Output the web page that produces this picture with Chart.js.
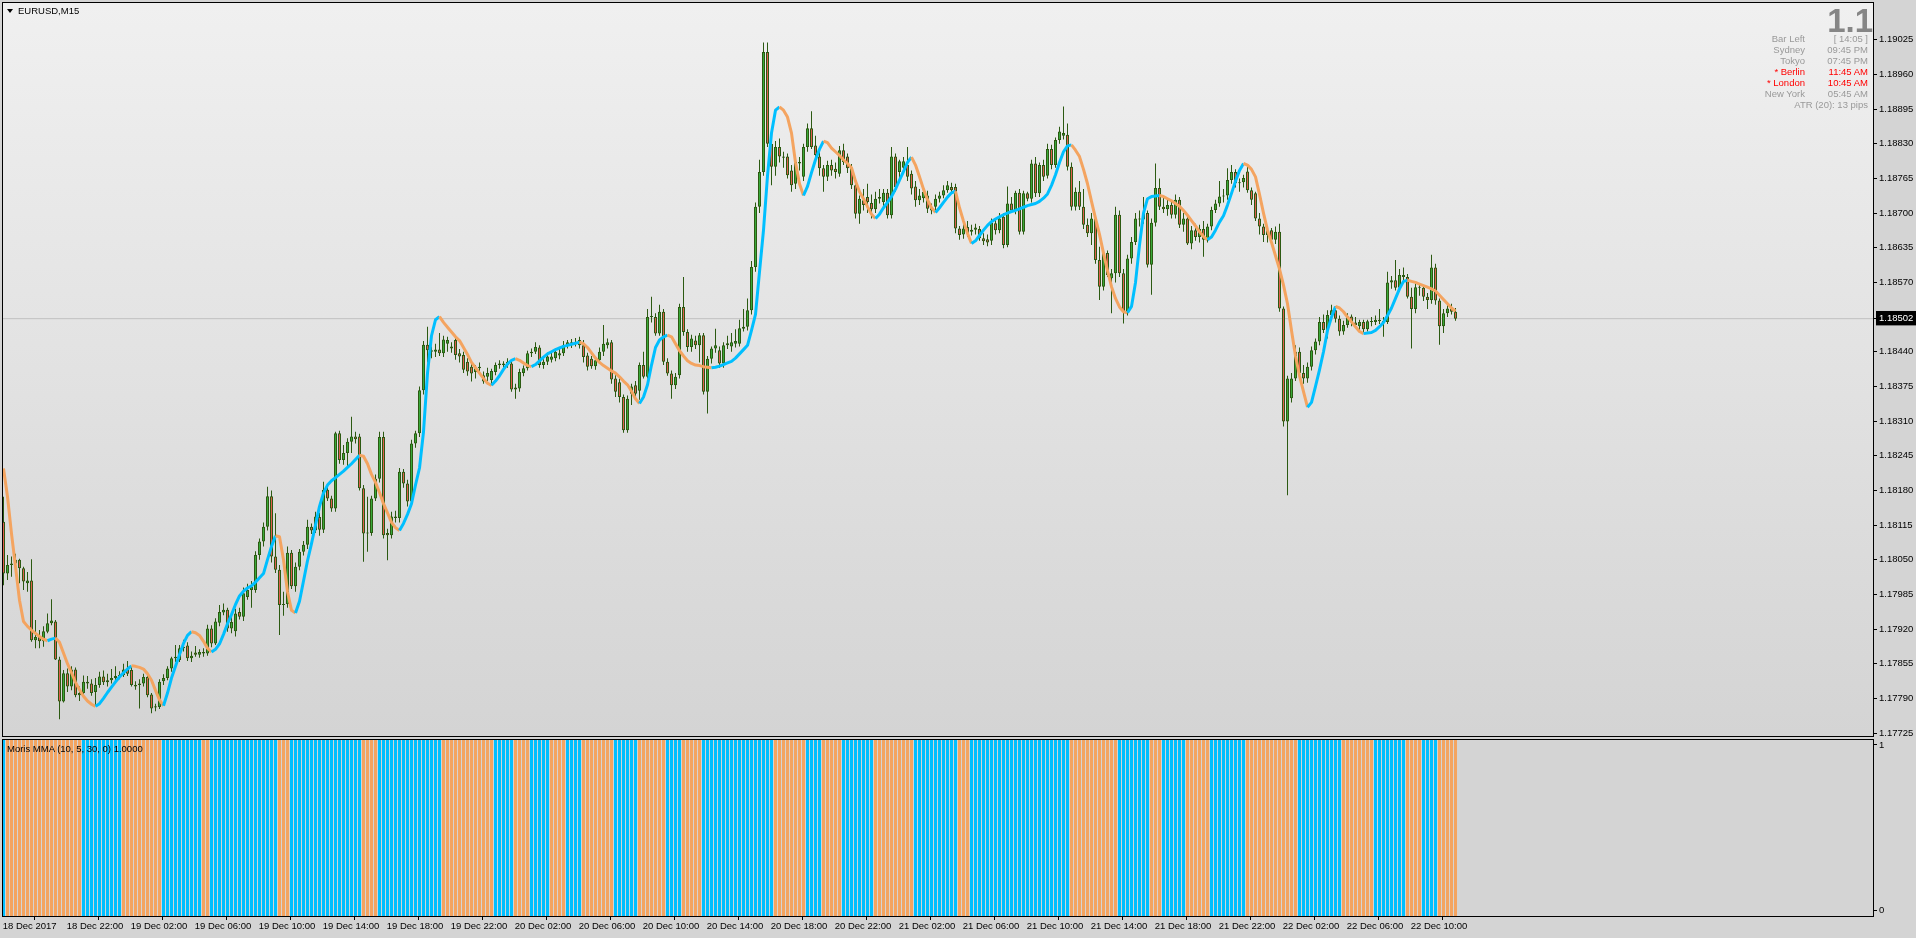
<!DOCTYPE html>
<html lang="en">
<head>
<meta charset="UTF-8">
<title>EURUSD,M15</title>
<script src="https://cdn.jsdelivr.net/npm/chart.js"></script>
<style>
  html, body { margin: 0; padding: 0; }
  body { width: 1916px; height: 938px; background: #d4d4d4; position: relative; overflow: hidden;
         font-family: "Liberation Sans", Arial, sans-serif; }
  canvas { position: absolute; left: 0; }
  .t { position: absolute; font-size: 9.5px; line-height: 11px; white-space: nowrap; color: #000; }
  .g { color: #999; }
  .red { color: #f00; }
</style>
</head>
<body>
<canvas id="priceChart" width="1916" height="737" style="top:0"></canvas>
<canvas id="histChart" width="1916" height="201" style="top:737px"></canvas>

<div style="position:absolute;left:7px;top:9px;width:0;height:0;border-left:3px solid transparent;border-right:3px solid transparent;border-top:4px solid #000"></div>
<div class="t" style="left:18px;top:5px">EURUSD,M15</div>

<div style="position:absolute;right:43px;top:4px;font:bold 33px/33px 'Liberation Sans',Arial,sans-serif;color:#868686">1.1</div>
<div id="info"></div>

<div class="t" style="left:7px;top:743px">Moris MMA (10, 5, 30, 0) 1.0000</div>

<script>
// prices are stored in points (0.00001) above 1.17000
const PRICE_BASE = 1.17;

const opens = [
  1121,1024,1040,1043,1050,1034,1006,1011,899,905,
  897,915,931,934,863,784,837,812,844,796,
  800,821,818,802,815,831,820,824,828,832,
  834,844,843,815,815,818,830,797,775,774,
  822,828,846,865,862,884,889,865,876,872,
  877,874,921,893,932,951,956,921,916,952,
  943,980,993,993,1059,1084,1112,1169,1056,1031,
  965,967,1063,1000,1037,1065,1078,1112,1105,1130,
  1106,1181,1165,1146,1287,1237,1250,1271,1281,1281,
  1184,1099,1100,1165,1202,1280,1100,1096,1131,1128,
  1215,1193,1159,1268,1287,1368,1453,1443,1440,1444,
  1437,1455,1450,1462,1437,1434,1421,1412,1402,1409,
  1396,1393,1387,1402,1415,1418,1415,1418,1369,1371,
  1400,1409,1437,1440,1448,1415,1421,1425,1428,1433,
  1437,1452,1458,1455,1452,1452,1433,1427,1413,1424,
  1440,1452,1458,1390,1383,1355,1293,1361,1377,1367,
  1415,1393,1505,1505,1474,1515,1421,1399,1377,1396,
  1524,1477,1449,1461,1452,1471,1365,1427,1446,1443,
  1418,1452,1450,1455,1455,1483,1487,1518,1599,1712,
  1777,2002,1830,1787,1824,1806,1806,1780,1755,1796,
  1768,1824,1859,1827,1806,1784,1768,1790,1783,1774,
  1818,1806,1784,1752,1699,1724,1730,1719,1707,1727,
  1721,1738,1696,1806,1777,1785,1790,1774,1750,1724,
  1728,1733,1710,1712,1727,1733,1743,1749,1749,1671,
  1660,1674,1665,1669,1670,1653,1651,1648,1681,1668,
  1693,1640,1718,1705,1738,1665,1737,1727,1793,1737,
  1790,1770,1820,1790,1837,1845,1847,1787,1712,1740,
  1712,1678,1662,1690,1612,1562,1625,1578,1587,1697,
  1587,1515,1615,1646,1690,1688,1700,1603,1682,1747,
  1712,1707,1715,1697,1725,1678,1690,1643,1668,1655,
  1670,1650,1675,1706,1718,1731,1733,1762,1777,1756,
  1758,1778,1743,1737,1690,1675,1659,1668,1650,1665,
  1521,1309,1353,1390,1440,1400,1390,1412,1443,1459,
  1496,1481,1509,1518,1502,1478,1490,1506,1495,1488,
  1496,1482,1497,1496,1500,1497,1496,1570,1574,1560,
  1584,1580,1543,1520,1561,1560,1543,1537,1598,1536,
  1488,1512,1521,1515
];
const highs = [
  1168,1059,1056,1061,1052,1037,1027,1051,937,918,
  925,949,976,937,868,843,846,850,848,812,
  833,832,826,828,840,842,836,845,850,841,
  855,860,849,822,826,836,838,800,780,826,
  835,850,868,890,890,900,895,878,888,882,
  884,928,927,940,965,968,960,945,958,960,
  998,1005,1010,1066,1090,1120,1187,1180,1137,1040,
  990,1075,1068,1045,1070,1085,1125,1118,1140,1138,
  1196,1188,1170,1290,1292,1265,1278,1318,1290,1286,
  1190,1168,1170,1210,1290,1290,1108,1140,1142,1222,
  1220,1200,1275,1292,1375,1460,1487,1450,1455,1475,
  1470,1468,1458,1470,1445,1440,1428,1418,1415,1420,
  1403,1410,1408,1420,1424,1422,1428,1422,1380,1408,
  1414,1442,1446,1458,1452,1426,1438,1440,1446,1445,
  1460,1462,1464,1466,1468,1462,1438,1432,1430,1448,
  1490,1465,1462,1396,1390,1360,1358,1380,1385,1420,
  1440,1520,1543,1512,1528,1520,1428,1405,1400,1530,
  1580,1482,1472,1470,1475,1475,1432,1450,1483,1450,
  1458,1470,1475,1482,1500,1520,1540,1610,1720,1800,
  2020,2020,1840,1835,1840,1815,1812,1790,1800,1805,
  1830,1868,1891,1845,1815,1790,1798,1800,1795,1826,
  1830,1812,1792,1758,1733,1745,1755,1735,1740,1745,
  1745,1745,1824,1812,1800,1805,1824,1780,1760,1745,
  1750,1742,1718,1735,1740,1752,1760,1757,1755,1676,
  1680,1685,1678,1680,1676,1662,1660,1690,1688,1700,
  1700,1750,1730,1742,1745,1742,1740,1800,1805,1795,
  1800,1830,1828,1842,1862,1900,1868,1795,1748,1760,
  1745,1690,1700,1698,1637,1632,1630,1595,1712,1705,
  1595,1622,1655,1700,1705,1730,1705,1690,1793,1765,
  1730,1725,1722,1735,1730,1700,1695,1676,1680,1678,
  1685,1680,1712,1725,1760,1745,1784,1790,1782,1765,
  1772,1790,1748,1740,1700,1680,1675,1672,1675,1680,
  1525,1395,1400,1452,1448,1415,1420,1450,1465,1505,
  1510,1518,1528,1525,1508,1498,1512,1510,1505,1500,
  1500,1500,1505,1508,1520,1505,1590,1582,1612,1595,
  1598,1586,1560,1568,1568,1565,1550,1622,1605,1540,
  1520,1528,1530,1522
];
const lows = [
  1002,1012,1018,1021,1006,993,990,896,884,884,
  887,912,927,862,751,782,802,805,792,785,
  795,808,795,777,810,815,812,818,822,826,
  830,832,812,806,771,812,792,762,766,770,
  815,824,840,858,858,878,860,858,868,866,
  868,870,886,890,925,946,915,912,906,938,
  935,975,960,988,1050,1075,1105,1045,1025,909,
  945,960,995,990,1030,1058,1070,1098,1100,1095,
  1100,1160,1140,1140,1230,1228,1225,1250,1268,1180,
  1046,1065,1095,1160,1195,1090,1049,1090,1120,1120,
  1185,1150,1150,1260,1280,1360,1420,1428,1430,1432,
  1430,1440,1438,1425,1420,1400,1395,1384,1390,1398,
  1380,1385,1377,1396,1408,1410,1410,1365,1352,1365,
  1394,1405,1430,1436,1410,1408,1415,1420,1422,1426,
  1432,1446,1447,1450,1446,1420,1405,1408,1406,1418,
  1432,1446,1380,1355,1345,1288,1288,1340,1355,1350,
  1390,1390,1495,1470,1470,1415,1395,1352,1370,1390,
  1470,1440,1440,1445,1420,1360,1324,1418,1438,1410,
  1410,1445,1440,1448,1450,1478,1480,1510,1590,1700,
  1770,1824,1752,1770,1795,1785,1765,1740,1745,1780,
  1760,1815,1820,1795,1770,1740,1760,1770,1765,1768,
  1790,1775,1745,1690,1680,1705,1700,1690,1700,1718,
  1712,1690,1690,1740,1762,1778,1760,1735,1712,1715,
  1720,1700,1698,1705,1720,1728,1738,1738,1662,1650,
  1652,1655,1658,1660,1648,1640,1638,1640,1660,1662,
  1634,1636,1700,1698,1660,1660,1722,1720,1730,1730,
  1760,1765,1782,1785,1830,1838,1780,1705,1705,1706,
  1670,1655,1640,1605,1537,1555,1580,1512,1570,1580,
  1493,1508,1605,1640,1675,1680,1598,1547,1675,1706,
  1700,1695,1690,1690,1672,1665,1640,1632,1648,1645,
  1618,1645,1668,1700,1712,1720,1725,1755,1748,1740,
  1748,1738,1715,1685,1660,1646,1645,1640,1642,1515,
  1300,1171,1345,1385,1395,1380,1382,1405,1435,1452,
  1475,1465,1500,1495,1470,1472,1485,1488,1485,1478,
  1475,1478,1488,1490,1492,1468,1492,1558,1555,1552,
  1572,1540,1446,1512,1545,1535,1520,1530,1528,1453,
  1475,1505,1510,1498
];
const closes = [
  1024,1040,1043,1050,1034,1009,1011,899,905,897,
  916,931,936,863,784,837,812,844,796,800,
  821,818,800,815,831,820,824,828,832,834,
  844,836,815,812,818,830,796,771,773,821,
  828,846,865,868,884,887,865,870,872,877,
  874,921,893,934,952,956,921,933,949,943,
  987,993,999,1059,1084,1112,1169,1056,1031,965,
  967,1063,1000,1037,1065,1078,1112,1105,1131,1106,
  1181,1165,1146,1287,1237,1250,1271,1281,1276,1184,
  1099,1100,1165,1202,1280,1096,1096,1131,1128,1215,
  1193,1159,1268,1287,1368,1453,1443,1440,1444,1437,
  1463,1462,1446,1434,1431,1406,1403,1399,1409,1412,
  1384,1400,1404,1415,1418,1415,1421,1369,1373,1402,
  1409,1437,1440,1449,1415,1421,1431,1431,1440,1437,
  1452,1458,1452,1458,1462,1430,1412,1413,1424,1440,
  1455,1458,1388,1365,1355,1293,1352,1375,1361,1415,
  1393,1505,1505,1474,1515,1421,1399,1377,1393,1524,
  1477,1449,1465,1452,1471,1365,1427,1446,1452,1418,
  1452,1456,1458,1460,1484,1487,1518,1599,1712,1777,
  2002,1830,1787,1824,1806,1804,1771,1752,1796,1793,
  1824,1859,1824,1809,1784,1768,1790,1780,1777,1818,
  1796,1784,1752,1699,1727,1715,1721,1707,1727,1730,
  1738,1696,1806,1749,1797,1797,1768,1746,1724,1733,
  1740,1708,1705,1727,1733,1743,1752,1743,1671,1659,
  1671,1662,1669,1673,1653,1647,1645,1682,1668,1690,
  1640,1718,1705,1738,1665,1737,1727,1793,1737,1790,
  1768,1820,1790,1837,1853,1850,1787,1712,1740,1712,
  1678,1662,1690,1612,1562,1625,1584,1587,1697,1587,
  1515,1615,1646,1690,1688,1700,1603,1682,1747,1712,
  1707,1715,1697,1725,1678,1690,1643,1668,1655,1670,
  1650,1675,1706,1718,1731,1733,1762,1777,1756,1758,
  1766,1743,1725,1690,1675,1659,1668,1650,1665,1521,
  1309,1390,1390,1440,1400,1390,1412,1443,1459,1496,
  1481,1509,1518,1502,1478,1490,1506,1495,1490,1496,
  1482,1497,1496,1500,1497,1496,1570,1574,1560,1584,
  1580,1543,1520,1561,1560,1543,1537,1598,1536,1488,
  1512,1521,1515,1502
];
// Moris MMA line, same units
const maVals = [
  1221,1168,1099,1037,974,934,925,918,912,906,901,898,901,903,
  895,875,855,838,820,806,794,785,779,775,
  780,790,801,811,821,830,838,845,851,
  850,848,845,836,824,805,787,776,
  800,828,850,872,893,908,915,
  913,908,897,884,877,
  882,892,910,930,947,966,982,991,997,1001,1008,1016,1024,1050,1075,1095,
  1093,1050,990,955,950,
  972,1010,1048,1080,1115,1150,1175,1190,1198,1204,1210,1216,1223,1230,1238,1246,
  1244,1230,1210,1195,1176,1155,1138,1120,1110,1105,
  1118,1135,1155,1190,1222,1290,1400,1470,1500,
  1506,1495,1486,1477,1468,1461,1448,1435,1420,1410,1400,1390,1381,
  1377,1385,1395,1407,1417,1424,1427,
  1424,1419,1414,1412,
  1416,1423,1430,1436,1440,1444,1447,1450,1452,1454,1456,1458,
  1455,1448,1438,1428,1420,1414,1409,1404,1400,1393,1385,1378,1366,1352,1343,
  1355,1378,1415,1448,1462,1468,1471,
  1468,1455,1442,1432,1423,1418,1415,1414,1412,1411,1410,
  1411,1413,1416,1419,1422,1428,1436,1444,1452,1480,1510,1590,1668,1770,1850,1893,1899,
  1893,1880,1850,1795,1755,1733,1750,1776,1800,1820,1835,
  1832,1822,1815,1808,1800,1793,1785,1760,1740,1727,1712,1698,1690,
  1698,1710,1720,1731,1745,1762,1778,1795,1805,
  1790,1768,1745,1725,1710,1701,1710,1720,1730,1738,1741,
  1710,1685,1662,1643,
  1648,1658,1668,1677,1684,1689,1693,1697,1700,1703,1705,1708,1711,1714,1716,1718,1722,1728,1736,1752,1772,1795,1815,1826,1828,
  1818,1806,1782,1755,1722,1690,1660,1625,1592,1562,1540,1524,1515,1513,1525,
  1570,1640,1700,1727,1731,1732,1733,
  1731,1727,1723,1718,1713,1705,1696,1686,1676,1665,1656,1650,
  1655,1668,1683,1695,1715,1737,1760,1780,1793,
  1790,1782,1768,1735,1700,1668,1645,1620,1595,1565,1530,1480,1432,1395,1365,1336,
  1345,1375,1406,1440,1480,1505,1525,
  1522,1515,1505,1496,1487,1478,1474,
  1475,1476,1480,1487,1495,1508,1522,1540,1558,1572,
  1574,1572,1570,1567,1564,1561,1558,1554,1546,1538,1530,1522,1516
];
// histogram colour runs: [colour, number of bars]
const histRuns = [
  ['b',1],['o',19],['b',10],['o',10],['b',10],['o',2],['b',17],['o',3],['b',18],['o',4],
  ['b',16],['o',13],['b',5],['o',4],['b',5],['o',4],['b',4],['o',8],['b',6],['o',7],
  ['b',4],['o',5],['b',18],['o',8],['b',4],['o',5],['b',8],['o',10],['b',11],['o',3],
  ['b',25],['o',12],['b',8],['o',3],['b',6],['o',6],['b',9],['o',13],['b',11],['o',8],
  ['b',8],['o',4],['b',4],['o',5]
];
const bidPrice = 1.18502;
const priceTicks = [1.19025,1.18960,1.18895,1.18830,1.18765,1.18700,1.18635,1.18570,1.18440,1.18375,
  1.18310,1.18245,1.18180,1.18115,1.18050,1.17985,1.17920,1.17855,1.17790,1.17725];
const timeTickBars = [0,16,32,48,64,80,96,112,128,144,160,176,192,208,224,240,256,272,288,304,320,336,352];
const timeTickLabels = ['18 Dec 2017','18 Dec 22:00','19 Dec 02:00','19 Dec 06:00','19 Dec 10:00','19 Dec 14:00',
  '19 Dec 18:00','19 Dec 22:00','20 Dec 02:00','20 Dec 06:00','20 Dec 10:00','20 Dec 14:00','20 Dec 18:00',
  '20 Dec 22:00','21 Dec 02:00','21 Dec 06:00','21 Dec 10:00','21 Dec 14:00','21 Dec 18:00','21 Dec 22:00',
  '22 Dec 02:00','22 Dec 06:00','22 Dec 10:00'];
const histTickLabels = ['0', '1'];
const infoRows = [
  ['Bar Left', '[ 14:05 ]', 'g'],
  ['Sydney', '09:45 PM', 'g'],
  ['Tokyo', '07:45 PM', 'g'],
  ['* Berlin', '11:45 AM', 'red'],
  ['* London', '10:45 AM', 'red'],
  ['New York', '05:45 AM', 'g']
];
const atrText = 'ATR (20): 13 pips';

[opens, highs, lows, closes, maVals].forEach((a, k) => {
  if (a.length !== 364) console.warn('length mismatch', k, a.length);
});

const ORANGE = '#f4a460', BLUE = '#00bfff';
const BULL = '#39a939', BEAR = '#df5f4d', WICK = '#2c5a12';
const FONT = { family: "'Liberation Sans', Arial, sans-serif", size: 9.5 };
const toPrice = v => +(PRICE_BASE + v / 1e5).toFixed(5);
const idx = opens.map((_, i) => i);

// x: 4 px per bar, chart area 1870 px wide
const X_MIN = -0.125, X_MAX = X_MIN + 1870 / 4;
const Y_MAX = 1.19094, Y_MIN = 1.177194;

// info panel text
const info = document.getElementById('info');
infoRows.forEach((r, k) => {
  const top = 33.3 + k * 10.93;
  info.insertAdjacentHTML('beforeend',
    `<div class="t ${r[2]}" style="right:111px;top:${top}px">${r[0]}</div>` +
    `<div class="t ${r[2]}" style="right:48px;top:${top}px">${r[1]}</div>`);
});
info.insertAdjacentHTML('beforeend', `<div class="t g" style="right:48px;top:98.8px">${atrText}</div>`);

const framePlugin = {
  id: 'frame',
  beforeDraw(chart, args, opts) {
    const { ctx, chartArea: a } = chart;
    ctx.save();
    if (opts.gradient) {
      const g = ctx.createLinearGradient(0, a.top, 0, a.bottom);
      g.addColorStop(0, '#f0f0f0');
      g.addColorStop(1, '#d4d4d4');
      ctx.fillStyle = g;
    } else {
      ctx.fillStyle = '#d4d4d4';
    }
    ctx.fillRect(a.left, a.top, a.right - a.left, a.bottom - a.top);
    ctx.restore();
  },
  afterDraw(chart) {
    const { ctx, chartArea: a } = chart;
    ctx.save();
    ctx.strokeStyle = '#000';
    ctx.lineWidth = 1;
    ctx.strokeRect(a.left - 0.5, a.top - 0.5, a.right - a.left + 1, a.bottom - a.top + 1);
    ctx.restore();
  }
};

new Chart(document.getElementById('priceChart'), {
  type: 'bar',
  plugins: [framePlugin],
  data: {
    datasets: [
      {
        type: 'line', label: 'Moris MMA', order: 0,
        data: maVals.map((v, i) => ({ x: i, y: toPrice(v) })),
        borderWidth: 3, borderColor: BLUE, pointRadius: 0, borderJoinStyle: 'round',
        segment: { borderColor: c => c.p1.parsed.y < c.p0.parsed.y ? ORANGE : BLUE }
      },
      {
        label: 'body', order: 1,
        data: idx.map(i => ({ x: i, y: [toPrice(opens[i]), toPrice(closes[i])] })),
        backgroundColor: idx.map(i => closes[i] >= opens[i] ? BULL : BEAR),
        borderColor: WICK, borderWidth: 1, borderSkipped: false,
        barThickness: 3, minBarLength: 1, grouped: false, inflateAmount: 0
      },
      {
        label: 'wick', order: 2,
        data: idx.map(i => ({ x: i, y: [toPrice(lows[i]), toPrice(highs[i])] })),
        backgroundColor: WICK, borderWidth: 0,
        barThickness: 1, minBarLength: 1, grouped: false, inflateAmount: 0
      },
      {
        type: 'line', label: 'bid', order: 3,
        data: [{ x: X_MIN - 1, y: bidPrice }, { x: X_MAX + 1, y: bidPrice }],
        borderColor: '#c0c0c0', borderWidth: 1, pointRadius: 0
      }
    ]
  },
  options: {
    responsive: false, animation: false, events: [],
    layout: { padding: { left: 3, top: 3, right: 0, bottom: 1 } },
    plugins: { legend: { display: false }, tooltip: { enabled: false }, frame: { gradient: true } },
    scales: {
      x: { type: 'linear', display: false, min: X_MIN, max: X_MAX, offset: false },
      y: {
        position: 'right', min: Y_MIN, max: Y_MAX, bounds: 'data',
        afterBuildTicks: s => { s.ticks = priceTicks.concat([bidPrice]).map(v => ({ value: v })); },
        afterFit: s => { s.width = 43; s.paddingTop = 0; s.paddingBottom = 0; },
        grid: { drawOnChartArea: false, drawTicks: true, tickLength: 4, color: '#000' },
        border: { display: true, color: '#000' },
        ticks: {
          padding: 2, font: FONT,
          color: c => (c.tick && c.tick.value === bidPrice) ? '#fff' : '#000',
          showLabelBackdrop: c => !!(c.tick && c.tick.value === bidPrice),
          backdropColor: '#000',
          backdropPadding: { top: 2, bottom: 1, left: 3, right: 6 },
          callback: v => v.toFixed(5)
        }
      }
    }
  }
});

const histColors = [];
histRuns.forEach(([c, n]) => { for (let k = 0; k < n; k++) histColors.push(c === 'o' ? ORANGE : BLUE); });

new Chart(document.getElementById('histChart'), {
  type: 'bar',
  plugins: [framePlugin],
  data: {
    datasets: [{
      label: 'Moris MMA',
      data: idx.map(i => ({ x: i, y: 1 })),
      backgroundColor: histColors, borderWidth: 0,
      barThickness: 3, grouped: false, inflateAmount: 0
    }]
  },
  options: {
    responsive: false, animation: false, events: [],
    layout: { padding: { left: 3, top: 3, right: 0, bottom: 0 } },
    plugins: { legend: { display: false }, tooltip: { enabled: false }, frame: { gradient: false } },
    scales: {
      x: {
        type: 'linear', position: 'bottom', min: X_MIN, max: X_MAX, offset: false, bounds: 'data',
        afterBuildTicks: s => { s.ticks = timeTickBars.map(b => ({ value: b - 0.2 })); },
        afterFit: s => { s.height = 22; s.paddingLeft = 0; s.paddingRight = 0; },
        grid: { drawOnChartArea: false, drawTicks: true, tickLength: 4, color: '#000' },
        border: { display: true, color: '#000' },
        ticks: {
          autoSkip: false, maxRotation: 0, minRotation: 0, align: 'start', padding: 1,
          color: '#000', font: FONT,
          callback: (v, i) => timeTickLabels[i]
        }
      },
      y: {
        position: 'right', min: 0, max: 1, bounds: 'data',
        afterBuildTicks: s => { s.ticks = [{ value: 0.034 }, { value: 0.972 }]; },
        afterFit: s => { s.width = 43; s.paddingTop = 0; s.paddingBottom = 0; },
        grid: { drawOnChartArea: false, drawTicks: true, tickLength: 4, color: '#000' },
        border: { display: true, color: '#000' },
        ticks: { padding: 2, color: '#000', font: FONT, callback: (v, i) => histTickLabels[i] }
      }
    }
  }
});
</script>
</body>
</html>
